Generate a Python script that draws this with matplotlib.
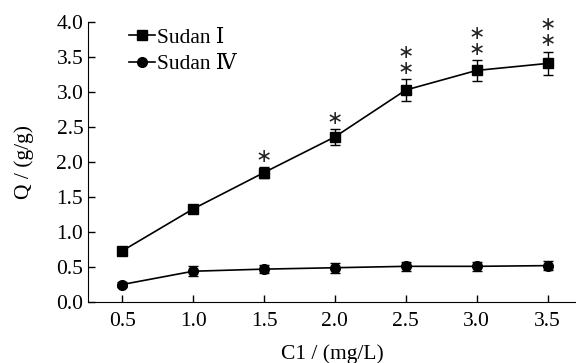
import matplotlib.pyplot as plt
from matplotlib.lines import Line2D

plt.rcParams["font.family"] = ["Liberation Serif", "DejaVu Serif"]

conc = [0.5, 1.0, 1.5, 2.0, 2.5, 3.0, 3.5]
sudan1 = [0.73, 1.33, 1.85, 2.36, 3.03, 3.31, 3.41]
sudan1_err = [0.03, 0.05, 0.08, 0.11, 0.155, 0.15, 0.165]
sudan4 = [0.25, 0.44, 0.47, 0.49, 0.51, 0.51, 0.52]
sudan4_err = [0.04, 0.07, 0.06, 0.07, 0.06, 0.06, 0.06]
stars = [0, 0, 1, 1, 2, 2, 2]

fig = plt.figure(figsize=(5.76, 3.63), dpi=100)
ax = fig.add_axes([0.153, 0.168, 0.847, 0.771])

ax.errorbar(conc, sudan1, yerr=sudan1_err, color="black", marker="s", markersize=7,
            linewidth=1.2, elinewidth=1.0, capsize=3.5)
ax.errorbar(conc, sudan4, yerr=sudan4_err, color="black", marker="o", markersize=7,
            linewidth=1.2, elinewidth=1.0, capsize=3.5)

# significance marks stacked above the Sudan I error bars
for x, y, e, n in zip(conc, sudan1, sudan1_err, stars):
    if n == 0:
        continue
    ax.annotate("\n".join(["∗"] * n), (x, y + e), xytext=(0, 1), textcoords="offset points",
                ha="center", va="bottom", fontsize=14, family="DejaVu Sans",
                color="#222222", linespacing=0.8)

ax.set_xlim(0.26, 3.7)
ax.set_ylim(0, 4.0)
ax.set_xticks(conc)
ax.set_xticklabels(["0.5", "1.0", "1.5", "2.0", "2.5", "3.0", "3.5"])
ax.set_yticks([0.0, 0.5, 1.0, 1.5, 2.0, 2.5, 3.0, 3.5, 4.0])
ax.tick_params(direction="in", length=5, width=1, labelsize=15.5)
ax.tick_params(axis="x", pad=7)
ax.spines["top"].set_visible(False)
ax.spines["right"].set_visible(False)
ax.set_xlabel("C1 / (mg/L)", fontsize=15.5, labelpad=10)
ax.set_ylabel("Q / (g/g)", fontsize=15.5, labelpad=16)

handles = [Line2D([], [], color="black", marker="s", markersize=7, linewidth=1.2),
           Line2D([], [], color="black", marker="o", markersize=7, linewidth=1.2)]
ax.legend(handles, ["Sudan Ⅰ", "Sudan Ⅳ"], loc="upper left", bbox_to_anchor=(0.045, 1.05),
          frameon=False, fontsize=15.5, handlelength=1.2, handletextpad=0.1, labelspacing=0.3)

plt.savefig("out.png")
